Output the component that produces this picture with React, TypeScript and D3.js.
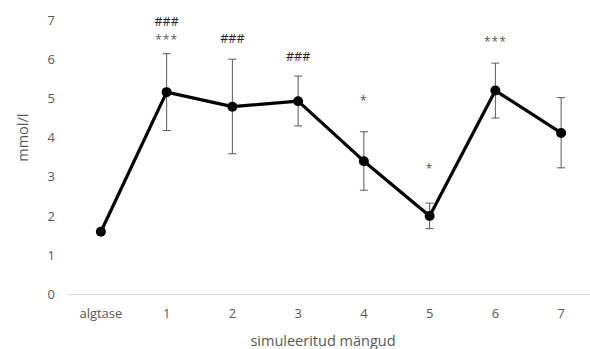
import * as d3 from "d3";
import { useEffect, useRef } from "react";

// categories on the x axis
const categories = ["algtase", "1", "2", "3", "4", "5", "6", "7"];
// mean values, mmol/l
const means = [1.6, 5.16, 4.79, 4.93, 3.4, 2.0, 5.2, 4.12];
// error bar ends
const errHigh = [1.68, 6.14, 6.0, 5.57, 4.15, 2.33, 5.9, 5.02];
const errLow = [1.53, 4.18, 3.59, 4.3, 2.66, 1.68, 4.5, 3.23];
// significance marks: category, text, level (mmol/l) where the text sits
const markCats = ["1", "1", "2", "3", "4", "5", "6"];
const markTexts = ["###", "***", "###", "###", "*", "*", "***"];
const markLevels = [6.95, 6.5, 6.53, 6.07, 4.93, 3.2, 6.45];
const yTicks = [0, 1, 2, 3, 4, 5, 6, 7];

const W = 590;
const H = 349;
const font = "'Open Sans', 'Liberation Sans', sans-serif";
const grey = "#595959";

const App = () => {
  const ref = useRef<SVGSVGElement>(null);

  useEffect(() => {
    const svg = d3.select(ref.current);
    svg.selectAll("*").remove();

    const margin = { top: 20, right: 0, bottom: 55, left: 68 };
    const x = d3.scaleBand().domain(categories).range([margin.left, W + 4]);
    const y = d3.scaleLinear().domain([0, 7]).range([294.5, margin.top]);
    const cx = (c: string) => (x(c) as number) + x.bandwidth() / 2;

    // y tick labels
    svg
      .append("g")
      .selectAll("text")
      .data(yTicks)
      .join("text")
      .attr("x", 55)
      .attr("y", (d) => y(d))
      .attr("dy", "0.35em")
      .attr("text-anchor", "end")
      .attr("font-family", font)
      .attr("font-size", 13)
      .attr("fill", grey)
      .text((d) => d);

    // x axis line
    svg
      .append("line")
      .attr("x1", margin.left)
      .attr("x2", W)
      .attr("y1", y(0))
      .attr("y2", y(0))
      .attr("stroke", "#d9d9d9")
      .attr("stroke-width", 1);

    // x tick labels
    svg
      .append("g")
      .selectAll("text")
      .data(categories)
      .join("text")
      .attr("x", (d) => cx(d))
      .attr("y", y(0) + 19)
      .attr("dy", "0.35em")
      .attr("text-anchor", "middle")
      .attr("font-family", font)
      .attr("font-size", 13)
      .attr("fill", grey)
      .text((d) => d);

    // axis titles
    svg
      .append("text")
      .attr("x", 323)
      .attr("y", 341)
      .attr("dy", "0.35em")
      .attr("text-anchor", "middle")
      .attr("font-family", font)
      .attr("font-size", 14.5)
      .attr("fill", grey)
      .text("simuleeritud mängud");

    svg
      .append("text")
      .attr("transform", `translate(23,${y(4)}) rotate(-90)`)
      .attr("dy", "0.35em")
      .attr("text-anchor", "middle")
      .attr("font-family", font)
      .attr("font-size", 14.5)
      .attr("fill", grey)
      .text("mmol/l");

    // error bars
    const eb = svg
      .append("g")
      .attr("stroke", grey)
      .attr("stroke-width", 1)
      .selectAll("g")
      .data(categories)
      .join("g");
    eb.append("line")
      .attr("x1", (d) => cx(d))
      .attr("x2", (d) => cx(d))
      .attr("y1", (d, i) => y(errHigh[i]))
      .attr("y2", (d, i) => y(errLow[i]));
    eb.append("line")
      .attr("x1", (d) => cx(d) - 4)
      .attr("x2", (d) => cx(d) + 4)
      .attr("y1", (d, i) => y(errHigh[i]))
      .attr("y2", (d, i) => y(errHigh[i]));
    eb.append("line")
      .attr("x1", (d) => cx(d) - 4)
      .attr("x2", (d) => cx(d) + 4)
      .attr("y1", (d, i) => y(errLow[i]))
      .attr("y2", (d, i) => y(errLow[i]));

    // the line
    const line = d3
      .line<number>()
      .x((d, i) => cx(categories[i]))
      .y((d) => y(d));
    svg
      .append("path")
      .datum(means)
      .attr("d", line)
      .attr("fill", "none")
      .attr("stroke", "#000")
      .attr("stroke-width", 3.2)
      .attr("stroke-linejoin", "round");

    svg
      .append("g")
      .selectAll("circle")
      .data(means)
      .join("circle")
      .attr("cx", (d, i) => cx(categories[i]))
      .attr("cy", (d) => y(d))
      .attr("r", 5)
      .attr("fill", "#000");

    // significance marks
    svg
      .append("g")
      .selectAll("text")
      .data(markTexts)
      .join("text")
      .attr("x", (d, i) => cx(markCats[i]))
      .attr("y", (d, i) => y(markLevels[i]))
      .attr("dy", "0.35em")
      .attr("text-anchor", "middle")
      .attr("font-family", font)
      .attr("font-size", (d) => (d.startsWith("#") ? 12.5 : 12))
      .attr("letter-spacing", (d) => (d.startsWith("*") ? 1 : 0))
      .attr("fill", (d) => (d.startsWith("#") ? "#262626" : grey))
      .text((d) => d);
  }, []);

  return (
    <svg
      ref={ref}
      width={W}
      height={H}
      style={{ position: "absolute", left: 0, top: 0, background: "#fff" }}
    />
  );
};

export default App;
